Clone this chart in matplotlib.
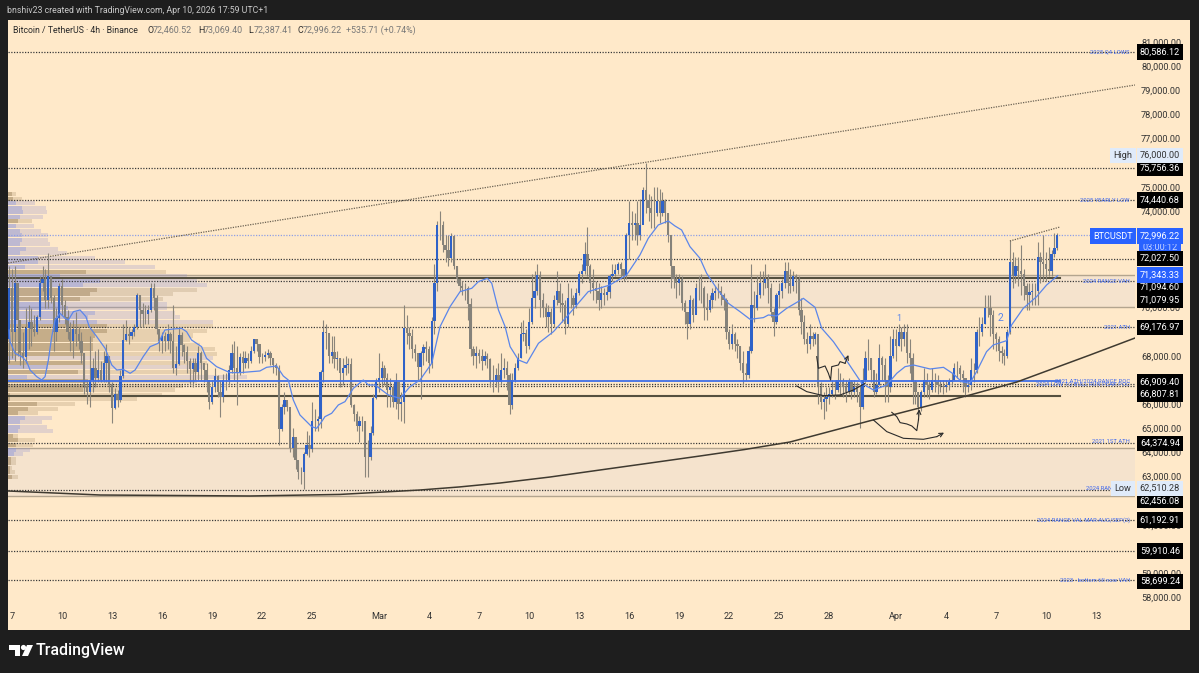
import numpy as np
import matplotlib
matplotlib.use("Agg")
import matplotlib.pyplot as plt
from matplotlib.patches import Polygon, Circle, Rectangle

plt.rcParams['font.family'] = ['Roboto', 'DejaVu Sans']

# candle data, 4h
first_open = 68700
closes = [
    70800,69000,71000,69500,68100,67950,69150,69400,69100,69000,
    69600,71000,71200,70300,71300,70400,69000,69550,70900,70100,
    69600,69000,68600,69100,68900,68600,68100,66750,66500,67000,
    67500,67100,67400,67000,67700,68000,66800,65850,66400,66150,
    67150,68650,68900,68800,69000,69200,70500,69900,69750,69750,
    69900,70800,70400,69100,68600,68800,68600,68900,68600,67500,
    67650,68850,68450,68150,67800,67450,67700,67350,68100,67700,
    67400,67000,66100,66700,67150,66500,66300,67000,67000,67400,
    68100,67500,67300,67950,67700,67900,67800,68200,68700,68500,
    67950,67950,68050,68100,67900,67600,67500,64950,65900,66150,
    65900,64200,64650,63700,63200,63200,63950,64300,64150,65300,
    65300,65400,67350,69000,68950,68000,68150,67850,67900,67300,
    67500,67600,67650,65950,65600,65100,65300,65300,63800,63800,
    64800,66250,66900,67100,67500,67100,66600,66700,66100,66900,
    66000,66100,69150,68950,68800,68300,68100,67550,68100,68350,
    68300,67700,69450,71000,73400,73400,72600,72400,72050,72950,
    71700,71200,70900,70800,70800,70150,68300,68000,68100,68000,
    67800,68000,67850,67000,66900,67200,66900,67400,67500,67200,
    65950,67000,67500,67900,68900,68950,68400,69400,70400,70700,
    71350,70300,70000,69600,69800,69300,70300,70700,70200,70100,
    69300,70400,70400,70100,70600,71400,71500,72200,71700,71000,
    70800,70700,70300,70600,70500,70650,71300,71400,71550,71800,
    71600,71300,73000,73500,73400,73500,73000,73400,74850,74450,
    74100,73900,73900,74400,73900,74400,73900,73000,71700,71200,
    71000,71200,70200,69800,69300,70300,69700,70800,70800,70800,
    70000,69900,70300,70600,70700,70700,70500,70300,69000,68500,
    68900,68500,68400,67700,67300,67200,68200,70100,70000,70500,
    71000,71000,71200,70800,69800,69400,70500,70700,71000,71500,
    71000,70900,71300,71200,69900,69400,68700,68500,68800,68700,
    68900,66700,66100,66200,66300,66400,66600,66600,67000,66900,
    66700,66500,66900,66500,66700,66500,65900,67000,67900,67900,
    67400,66500,66800,67900,67600,67000,66700,68000,68700,68400,
    69000,68700,69000,68100,67900,66900,66500,65900,66500,67000,
    66800,66600,67000,66900,66800,66750,66700,66800,66900,67000,
    67500,67500,67250,67100,66700,66800,67400,67400,69000,69000,
    69300,70000,70000,69700,68900,68700,68200,68100,68000,69000,
    71900,71300,71700,71500,71400,70900,70500,70650,70700,70700,
    72100,71900,71800,71600,71500,72200,72460,72996]
highs = [
    71700,71600,71700,70800,69500,69000,70000,70100,70000,69700,
    69700,71300,71700,71600,72250,71300,70500,70000,71000,71200,
    70300,69900,69400,69500,69800,69200,69000,68100,67000,68800,
    67900,68200,68300,67800,68200,68500,68000,66900,66650,66600,
    67400,69300,69500,69200,69100,69300,70600,70500,70200,70100,
    70100,71000,71000,70500,69000,69000,69000,69300,69000,70100,
    68400,69200,69000,68500,68400,67900,67900,67900,68400,68200,
    67700,67700,67000,67000,67500,67200,67000,67250,67300,67600,
    68500,68600,68400,68100,68200,68200,68100,68400,68700,68700,
    68400,68100,68200,68300,68200,67900,67700,67600,66000,66500,
    66100,65600,65000,64600,63700,63400,64000,64900,64700,66100,
    65800,65500,67400,69500,69300,68900,68800,68800,68200,67900,
    67900,68000,67900,67900,66000,65700,65500,65500,65300,64500,
    65100,66400,67100,68100,67800,67600,67300,67100,66800,67300,
    66700,66500,70100,69700,69200,69100,68500,68000,68200,68500,
    68600,68400,69600,71800,73600,74000,73600,73000,73000,73100,
    73000,71700,71200,71100,71000,70900,70400,68400,68400,68300,
    68300,68200,68100,67900,67600,67500,67700,68100,67900,67800,
    67300,67300,67700,68100,69400,69500,69100,70000,71400,71500,
    71800,71500,70600,70200,70100,70000,70500,71500,71000,70600,
    70300,71000,70800,70500,70800,71500,71800,72700,73350,71800,
    71600,71100,71000,70900,70800,70900,71400,71800,71800,71900,
    71900,71600,73100,74400,74000,73900,74400,74500,75000,76000,
    74700,74600,75000,75000,74900,74800,74500,73900,73000,71600,
    71400,71400,71300,70300,69800,70500,70400,71000,71300,71400,
    70900,70600,70500,70800,70900,71000,70900,70600,70400,69100,
    69300,69000,68700,68400,68200,67700,68400,71800,70700,71300,
    71500,71500,71800,71400,71000,70000,70600,71000,71200,71900,
    71900,71600,71500,71400,71300,70400,69700,69000,69300,69000,
    69000,68400,66900,66500,66700,66700,67000,67000,67500,67300,
    67100,67000,67100,67000,67000,66900,66800,67500,68200,68700,
    67900,66800,67300,68500,68000,67900,67200,68800,69100,69100,
    69300,69200,69300,69300,68700,68100,67000,66500,66600,67500,
    67300,67000,67500,67300,67200,67000,67000,67000,67100,67300,
    67700,67800,67600,67400,67100,67000,67900,67700,69100,69600,
    69600,70500,70500,70500,69900,69000,68800,68400,68300,69100,
    72800,72300,72100,72100,72600,71600,71000,71000,71000,71000,
    72700,72300,73000,72300,72500,72400,73100,73069]
lows = [
    67700,67900,67800,68000,67600,67500,67700,68300,68400,68800,
    68900,69500,70700,70000,70000,70200,68200,68600,69400,69700,
    69300,68700,68200,67900,68400,68300,67700,66400,66000,65900,
    66500,66700,66900,66900,66900,66900,66500,65200,65800,65900,
    66100,67100,68600,68500,68700,68800,69100,69200,69200,69300,
    69300,69800,69900,68900,68200,68100,68200,68300,68100,67300,
    67200,67600,68000,67700,67300,66800,66700,67000,67000,67000,
    66900,66500,65800,66000,66500,66300,65450,66100,66600,66800,
    67300,67000,65950,67200,67300,67500,67500,67700,68100,68200,
    67700,67700,67800,67900,67600,67300,67200,64300,64900,65600,
    65700,64000,63800,63300,62900,62700,62500,63900,63800,64000,
    64900,64900,65000,66900,68300,67700,67700,67500,67400,66700,
    66800,67200,67300,65900,65300,64900,64450,64900,63000,63000,
    63700,64700,66200,66500,66700,66800,65900,65900,65900,65800,
    65400,65300,65200,68500,68300,67900,67800,67000,66200,67600,
    67800,67300,67500,68900,70700,72800,72300,71900,71700,71900,
    71600,71000,70700,70500,70300,69500,68000,67600,67500,67700,
    67400,67600,67500,66700,66500,66700,66500,66800,67100,66600,
    65600,65800,66900,67400,67900,68600,68100,68300,69300,70000,
    70500,69600,69600,69200,69000,68900,69200,70100,69800,69400,
    68900,69200,70000,69700,70000,70500,71000,71400,71300,70600,
    70300,70200,69900,70000,70100,70300,70400,71100,71300,71400,
    71200,71100,71200,72000,72800,72800,72600,72800,73800,73900,
    73600,73300,73300,73800,73500,73800,73500,72700,70800,70800,
    70400,70500,69900,69300,68700,69100,69400,69800,70300,70200,
    69500,69500,69800,70000,70300,70400,70100,69900,68700,68300,
    68300,68200,67900,67400,66800,67000,67100,68100,69400,69900,
    70400,70500,70800,70200,69600,68800,69300,70000,70400,70800,
    70600,70600,70700,70600,69700,68900,68500,68100,68300,68400,
    68500,66000,65800,65400,65700,66000,66300,66200,66500,66400,
    66300,66100,66400,66200,66300,66100,65000,65800,66900,67400,
    66900,66300,66400,66800,67000,66100,66100,66500,67900,67800,
    68400,68200,68400,67700,67300,66000,66000,65500,65700,66300,
    66300,66200,66500,66500,66400,66500,66400,66500,66600,66800,
    67000,67100,66900,66500,66300,66500,66600,66900,67300,68400,
    68800,69300,69600,68800,68300,68200,67800,67700,67600,67900,
    68900,70800,71000,70900,70500,70300,69900,69900,70100,70100,
    70100,71000,71100,71100,71300,71300,72100,72387]

# blue moving average (candle index, price)
ma_i = [0,0.3,2.1,4.5,6.3,7.5,9.9,11.7,12.9,14.1,15.3,16.5,18.3,20.1,21.3,23.1,25.5,27.6,28.8,31.5,
        34.5,36.9,38.7,41,43.5,45.3,48.2,50.7,53.6,56,59,62,63.8,65.6,69.2,71,74.6,79.4,83,90.2,
        92.6,96.2,98.6,100.4,102.2,104.6,108.8,110.6,112.4,113.6,116,118.4,120.8,123.8,127.4,129.2,131.6,136.4,
        140.6,144.2,147.8,152,155,158.6,162.2,166.4,168.8,172,173.6,176,178.4,180.2,183.2,186.2,190.4,195.8,200.6,
        208.3,216.1,222.1,226.9,229.9,233.5,237.1,239.5,241.9,244.9,248.5,250.9,254.5,258.7,262.9,266.5,271.3,273.1,
        276.1,279.7,284.2,285.7,289.9,292.3,296.5,301.9,306.7,310.9,315.7,319.3,322.3,325.3,331.3,336.1,339.7,342.6,
        345.6,348,351.6,354,358.8,360.6,364.8,369.6,373.2,377.2]
ma_p = [69069,68586,68103,67965,67758,67413,67137,66999,67137,67827,68793,69483,69759,69552,69483,69828,69897,69621,69207,68793,
        68310,67620,67413,67441,67275,67413,67965,68379,68517,69069,69110,69138,69000,68655,68379,67896,67551,67303,67303,67372,
        67523,67579,67165,66999,66171,65550,65067,64998,65274,65481,65619,65964,66102,66654,66999,66792,66792,66378,
        66241,66724,67000,67690,69208,70036,70657,70795,71071,71209,71002,69898,69208,68380,67828,67690,68518,69001,69622,
        70657,70933,71347,72175,72865,73417,73583,73376,73210,72520,72037,71416,70795,70174,69829,69512,69581,69691,
        69650,69967,70271,70380,70007,69138,68586,67689,66861,66585,66792,67275,67551,67620,67454,67523,67247,66930,
        66861,67344,68172,68448,68627,69276,69966,70449,70932,71318]

# volume profile rows from the top row down
vp_total = [8,14,27,38,39,35,24,26,33,40, 40,42,50,59,87,117,147,158,179,189,
            199,189,165,155,159,159,167,172,205,205, 199,185,182,192,207,209,205,199,195,189,
            239,189,175,167,154,129,67,50,30,44, 34,39,45,10,27,25,22,15,8,8, 4,7,10]
vp_inner = [4,5,8,14,15,12,10,8,12,14, 14,12,18,12,30,30,17,78,52,92,
            75,89,82,72,55,60,87,80,89,99, 99,87,85,85,85,75,7,75,40,70,
            19,80,78,75,2,2,29,20,10,17, 12,12,10,5,10,8,8,6,3,3, 2,2,4]
vp_blue = [0,0,1,1,1,1,0,1,1,1, 1,1,1,1,1,1,1,0,1,1,
           1,0,0,0,1,1,1,1,1,0, 0,0,0,0,0,0,1,0,1,0,
           1,0,0,0,0,0,0,0,0,1, 1,1,1,0,0,0,1,1,0,0, 0,0,0]
vp_top = 74700
vp_step = 189

dotted_levels = [80586.12,75756.36,74440.68,72027.50,69176.97,66840,66760,64374.94,62456.08,61192.91,59910.46,58699.24,71094.60]
last_price = 72996.22
ma_level = 71343.33
blue_level = 66960
dark_level_top = 71230
dark_level_low = 66335
zones = [(70010,71340),(62190,64170)]

curve_i = [-0.4,32.7,86.6,119,147.8,162,176.6,194.5,212.5,230.5,248.5,264.6,280.9,310.7,345.6,362.5,388.8,405]
curve_p = [62402,62236,62195,62260,62443,62570,62733,62980,63271,63560,63851,64120,64431,65342,66377,66915,68033,68737]
trend_i = [-0.4,405]
trend_p = [71843,79213]
trend2_i = [360,378]
trend2_p = [72754,73333]

path_a = ([290.5,291.1,293.5,294.7,295.5,295.9,298.3,298.9,300.7,301.9],
          [67965,67482,67579,67275,67000,67551,67620,67758,67689,68034])
path_b = ([283.3,286.9,292.9,298.9,303.7,307.9], [66751,66516,66350,66378,66585,66861])
path_c = ([317.5,319.3,320.5,322.9,324.7,326.5,327.1,327.4], [65660,65481,65233,65178,65095,64902,65343,65785])
path_d = ([310.9,315.7,321.7,328.9,333.7,336.3], [65343,64860,64584,64543,64653,64818])

tick_pos = [1,19,37,55,73,91,109,133,151,169,187,205,223,241,259,277,295,319,337,355,373,391]
tick_lab = ['7','10','13','16','19','22','25','Mar','4','7','10','13','16','19','22','25','28','Apr','4','7','10','13']

price_ticks = [81000,80000,79000,78000,77000,75000,74000,70000,68000,66000,65000,64000,63000,61000,59000,58000]

# price, text, shift in px when the label got pushed away
black_labels = [(80586.12,'80,586.12',0),(75756.36,'75,756.36',0),(74440.68,'74,440.68',0),(72027.50,'72,027.50',0),
                (71094.60,'71,094.60',6),(71079.95,'71,079.95',19),(69176.97,'69,176.97',0),(66909.40,'66,909.40',0),
                (66807.81,'66,807.81',10),(64374.94,'64,374.94',0),(62456.08,'62,456.08',11),(61192.91,'61,192.91',0),
                (59910.46,'59,910.46',0),(58699.24,'58,699.24',1)]
note_labels = [(80586.12,'2025 Q4 LOWS',-5),(74440.68,'2025 YEARLY LOW',-5),(71094.60,'2024 RANGE VAH',-5),(69176.97,'2021 ATH',-5),
               (66960,'2021 ATH/2024 RANGE POC',-5),(66830,'2024 LOW TO BULL RUN PEAK POC',-5),(64440,'2021 1ST ATH',-5),
               (62510,'2024 RAN',-23),(61210,'2024 RANGE VAL MAR-AUG/SEP(2)',-5),(58699.24,'2023 - bottom till now VAH',-5)]

CREAM = '#ffe9c9'
DARK = '#1e1e1e'

fig = plt.figure(figsize=(11.99, 6.73), dpi=100, facecolor=DARK)

# pixel canvas for the frame, header and logo
bg = fig.add_axes([0, 0, 1, 1], zorder=0)
bg.set_xlim(0, 1199)
bg.set_ylim(673, 0)
bg.axis('off')
bg.add_patch(Rectangle((8, 20), 1182, 610, fc=CREAM, ec='none'))
bg.text(7, 10.5, 'bnshiv23 created with TradingView.com, Apr 10, 2026 17:59 UTC+1', color='#c9c9c9', fontsize=6.35, va='center')
bg.text(13, 30.5, 'Bitcoin / TetherUS · 4h · Binance', color='#2a2a2a', fontsize=6.3, va='center')
for x, s, c in [(148,'O','#2a2a2a'),(153,'72,460.52','#777777'),(198,'H','#2a2a2a'),(204,'73,069.40','#777777'),
                (248,'L','#2a2a2a'),(254,'72,387.41','#777777'),(297,'C','#2a2a2a'),(303,'72,996.22','#777777'),
                (346,'+535.71 (+0.74%)','#777777')]:
    bg.text(x, 30.5, s, color=c, fontsize=6.4, va='center')
bg.add_patch(Polygon([(9,645),(20,645),(20,656),(14.5,656),(14.5,650),(9,650)], fc='white', ec='none'))
bg.add_patch(Circle((23.5,647.5), 2.6, fc='white', ec='none'))
bg.add_patch(Polygon([(27,645),(33,645),(28,656),(22,656)], fc='white', ec='none'))
bg.text(36, 651, 'TradingView', color='white', fontsize=11.4, fontweight='medium', va='center')

ax = fig.add_axes([8/1199, 43/673, 1127/1199, 610/673], zorder=1)
ax.patch.set_alpha(0)
ax.set_xlim(-0.43, 405)
ax.set_ylim(56646, 81905)
for s in ax.spines.values():
    s.set_visible(False)

# volume profile on its own x scale, 1 unit = 1 px
vp = ax.twiny()
vp.patch.set_alpha(0)
vp.set_xlim(0, 1127)
vp.xaxis.set_visible(False)
for s in vp.spines.values():
    s.set_visible(False)

# zones go under the profile
for lo, hi in zones:
    vp.axhspan(lo, hi, fc='#f5e3cd', ec='none', zorder=0.5)
    vp.axhline(lo, color='#b3a58f', lw=1.0, zorder=1)
    vp.axhline(hi, color='#b3a58f', lw=1.0, zorder=1)

levels = vp_top - vp_step * np.arange(len(vp_total))
outer_c = ['#8f8fd0' if b else '#a58c66' for b in vp_blue]
inner_c = ['#7f8fe0' if b else '#8a6f48' for b in vp_blue]
vp.barh(levels, vp_total, height=vp_step*0.88, color=outer_c, alpha=0.26, lw=0, zorder=2)
vp.barh(levels, vp_inner, height=vp_step*0.88, color=inner_c, alpha=0.36, lw=0, zorder=2)
ax.set_zorder(2)
vp.set_zorder(1)

# level lines
for lv in dotted_levels:
    ax.axhline(lv, color='#3a3a3a', lw=0.9, ls=(0, (1, 1.2)), zorder=1)
ax.axhline(last_price, color='#8f9fe6', lw=0.9, ls=(0, (1, 1.2)), zorder=1)
ax.plot([-0.43, 378], [dark_level_top, dark_level_top], color='#55503f', lw=1.5, zorder=1.5)
ax.plot([-0.43, 378], [dark_level_low, dark_level_low], color='#55503f', lw=1.5, zorder=1.5)
ax.plot([-0.43, 378], [blue_level, blue_level], color='#3f6fe8', lw=1.3, zorder=4)

# trend lines
ax.plot(trend_i, trend_p, color='#6b6253', lw=0.9, ls=(0, (1, 1)), zorder=1.5)
ax.plot(trend2_i, trend2_p, color='#6b6253', lw=0.9, ls=(0, (1, 1)), zorder=5)
ax.plot(curve_i, curve_p, color='#3f3a30', lw=1.1, zorder=4)

# candles
closes = np.array(closes, dtype=float)
opens = np.r_[first_open, closes[:-1]]
idx = np.arange(len(closes))
up = closes >= opens
ax.vlines(idx, lows, highs, color='#8a857b', lw=0.8, zorder=2)
ax.bar(idx[~up], np.abs(closes-opens)[~up], bottom=np.minimum(opens, closes)[~up], width=0.82, color='#85827a', lw=0, zorder=3)
ax.bar(idx[up], np.abs(closes-opens)[up], bottom=opens[up], width=0.82, color='#2f62c8', lw=0, zorder=3)

ax.plot(ma_i, ma_p, color='#5b86ea', lw=0.9, zorder=4.5)

# hand drawn paths
for px, py in [path_a, path_c, path_d]:
    ax.plot(px[:-1], py[:-1], color='#2b2b2b', lw=0.8, zorder=5)
    ax.annotate('', xy=(px[-1], py[-1]), xytext=(px[-2], py[-2]),
                arrowprops=dict(arrowstyle='->', color='#2b2b2b', lw=0.8, shrinkA=0, shrinkB=0, mutation_scale=7), zorder=5)
ax.plot(path_b[0], path_b[1], color='#2b2b2b', lw=0.8, zorder=5)

ax.text(320, 69540, '1', color='#5b86ea', fontsize=6.5, ha='center', va='center', zorder=5)
ax.text(356.5, 69580, '2', color='#5b86ea', fontsize=7.5, ha='center', va='center', zorder=5)

# axes
ax.set_xticks(tick_pos)
ax.set_xticklabels(tick_lab, fontsize=6.6, color='#333333')
ax.tick_params(axis='x', length=0, pad=-13)
ax.yaxis.tick_right()
ax.set_yticks(price_ticks)
ax.set_yticklabels([f'{p:,.2f}' for p in price_ticks], fontsize=6.6, color='#333333')
ax.tick_params(axis='y', length=0, pad=4.4)

ytr = ax.get_yaxis_transform()

def price_box(price, text, fc, color, dx=25, shift=0, z=8):
    ax.annotate(text, xy=(1, price), xycoords=ytr, xytext=(dx, -shift), textcoords='offset pixels',
                ha='center', va='center', fontsize=6.6, color=color, zorder=z, annotation_clip=False,
                bbox=dict(boxstyle='square,pad=0.36', fc=fc, ec='none'))

for price, text, shift in black_labels:
    price_box(price, text, 'black', 'white', shift=shift)
price_box(ma_level, '71,343.33', '#2962ff', 'white')
price_box(last_price, '03:00:12', '#2962ff', '#c4d2ff', shift=12, z=7.5)
price_box(last_price, '72,996.22', '#2962ff', 'white', shift=1)
price_box(last_price, 'BTCUSDT', '#2962ff', 'white', dx=-22, shift=1)
price_box(76000, '76,000.00', '#e0ebfa', '#333333', shift=-7)
price_box(76000, 'High', '#e0ebfa', '#333333', dx=-12, shift=-7)
price_box(62510.28, '62,510.28', '#e0ebfa', '#333333')
price_box(62510.28, 'Low', '#e0ebfa', '#333333', dx=-12)

for price, text, dx in note_labels:
    ax.annotate(text, xy=(1, price), xycoords=ytr, xytext=(dx, 0), textcoords='offset pixels', ha='right', va='center',
                fontsize=4.2, color='#3f68ee', zorder=6, annotation_clip=False)

fig.savefig('out.png', dpi=100, facecolor=DARK)
